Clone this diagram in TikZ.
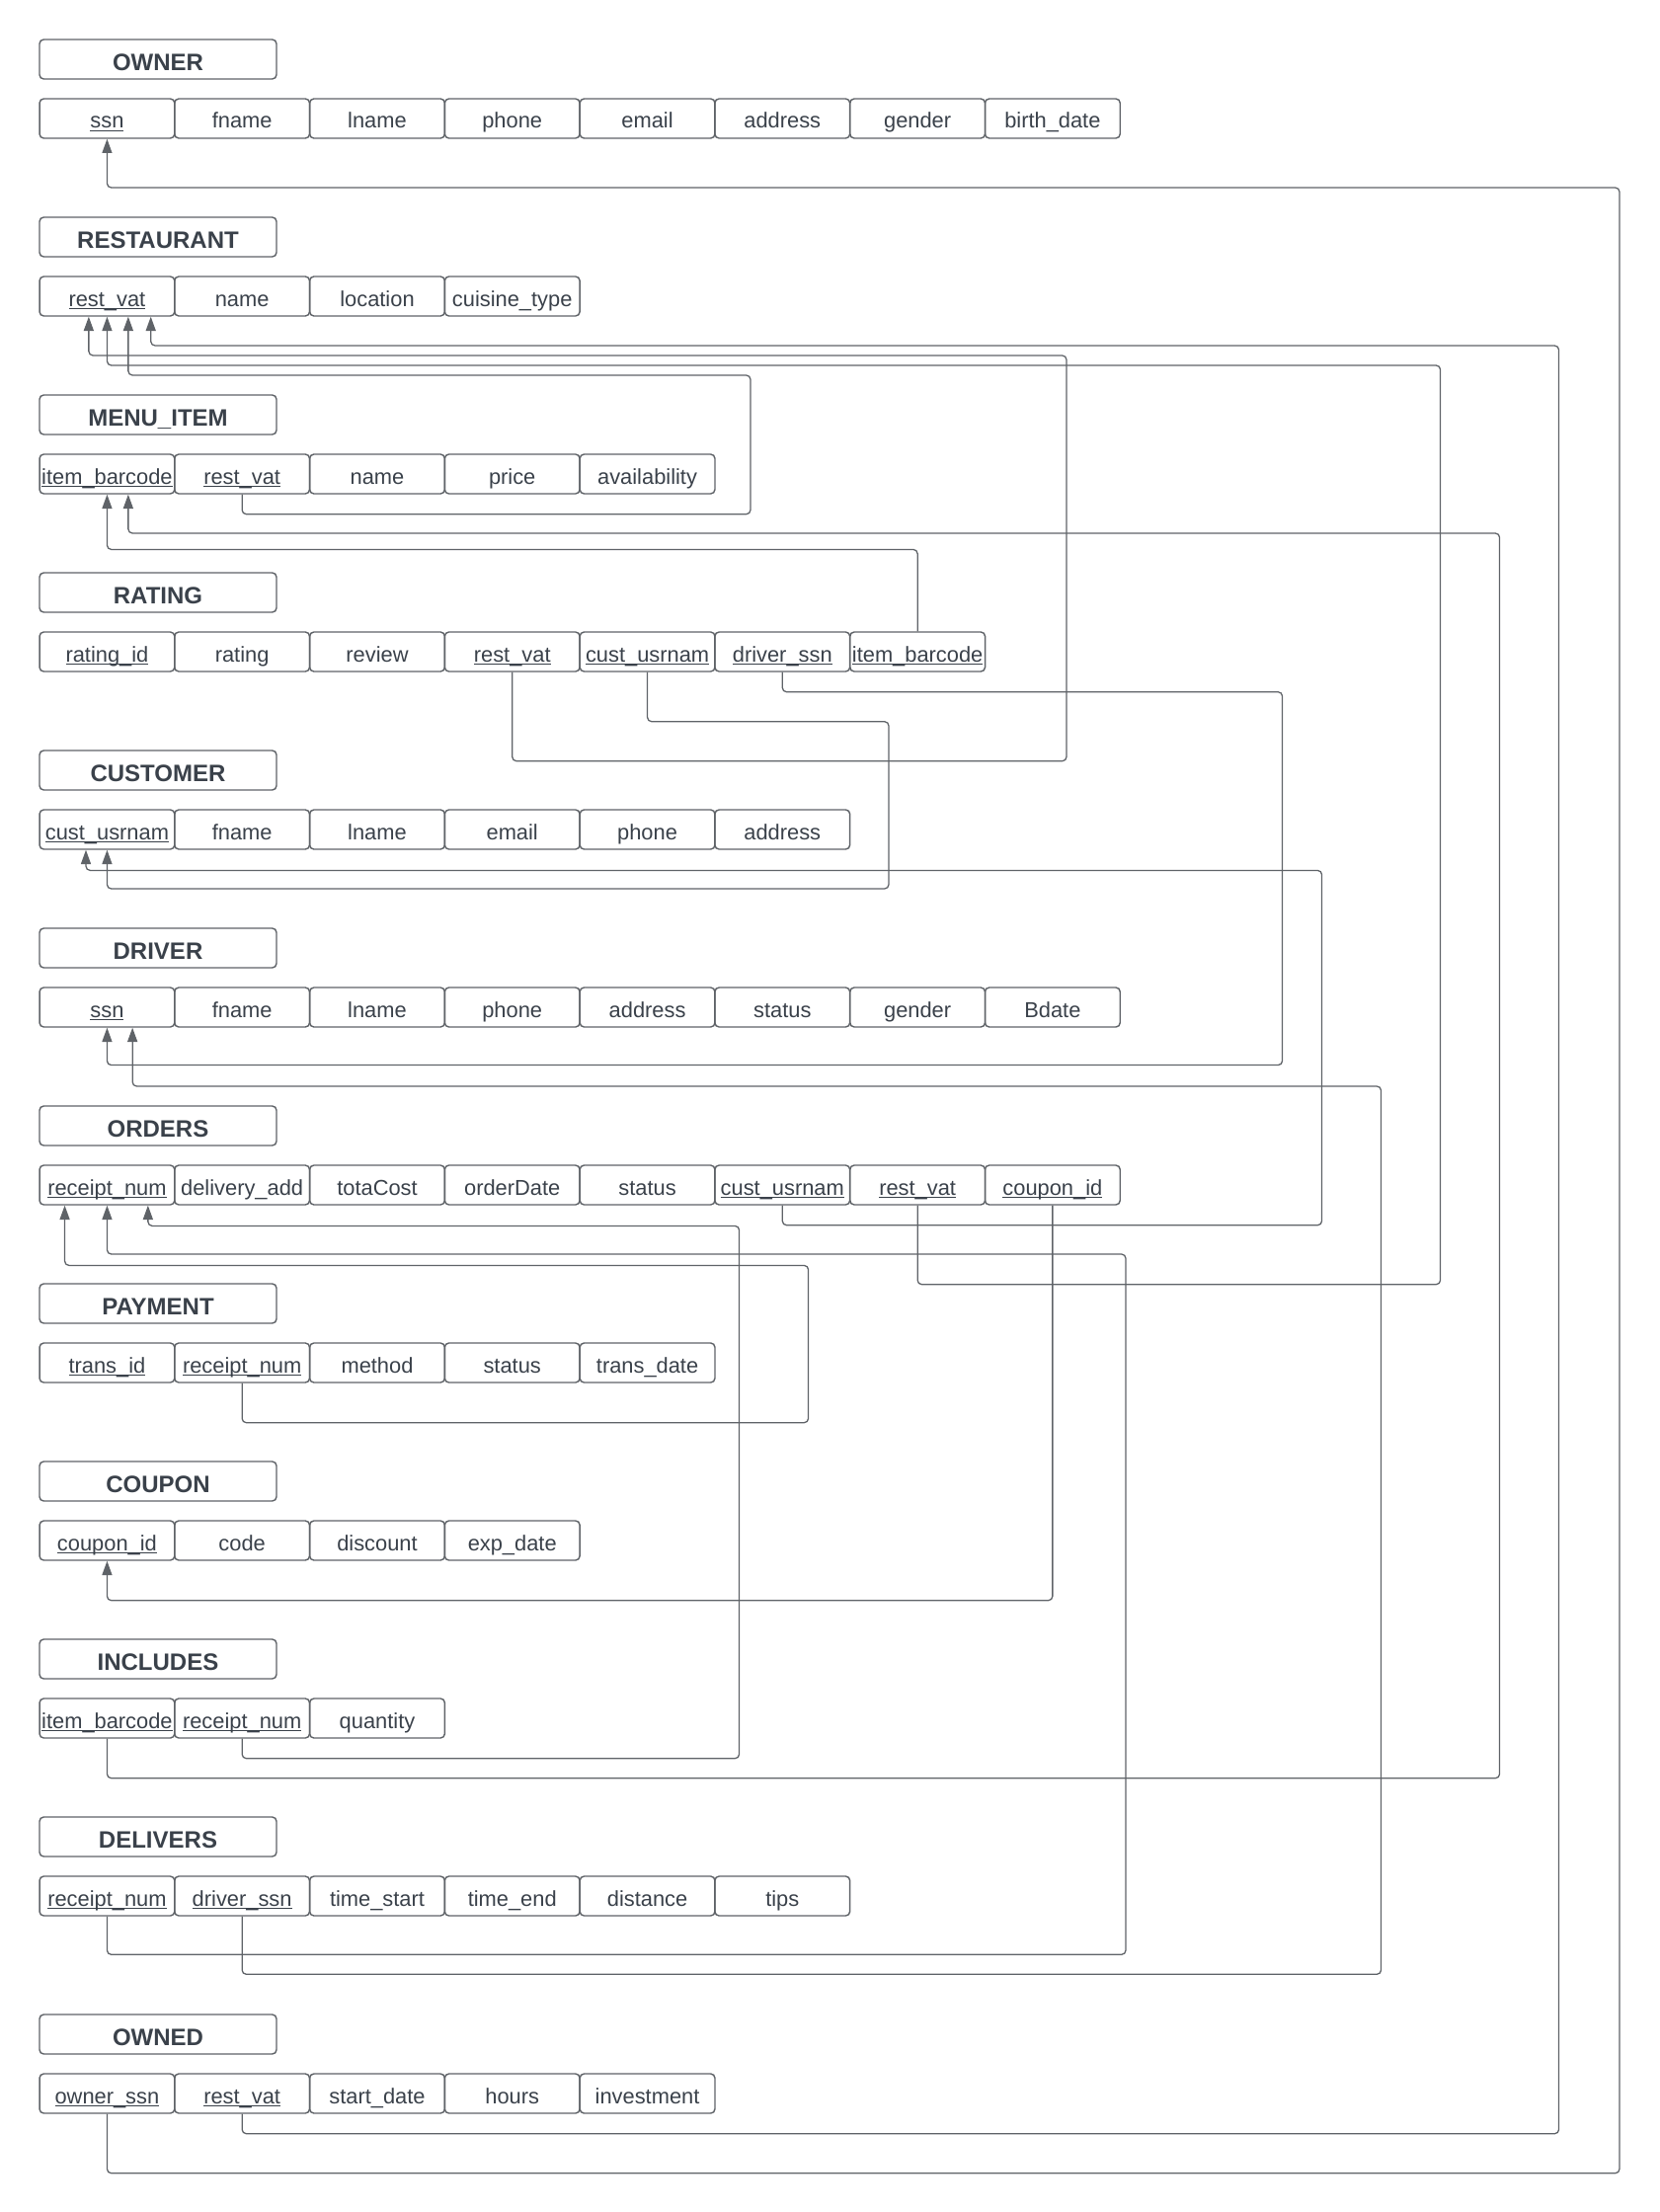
\documentclass[tikz,border=0pt]{standalone}
\usepackage{fontspec}
\setmainfont{Liberation Sans}
\usepackage{tikz}
\usetikzlibrary{arrows.meta}
\definecolor{inkgray}{HTML}{3A414A}
\definecolor{linegray}{HTML}{5F6368}
\tikzstyle{tablehead}=[draw=linegray, line width=1pt, rounded corners=3pt, minimum width=168pt, minimum height=28pt, inner sep=0pt, text=inkgray, font=\fontsize{16.8}{19}\selectfont\bfseries, text height=17pt, text depth=1pt]
\tikzstyle{attr}=[draw=linegray, line width=1pt, rounded corners=3pt, minimum width=95.75pt, minimum height=28pt, inner sep=0pt, text=inkgray, font=\fontsize{15.3}{18}\selectfont, text height=16pt, text depth=2pt]
\tikzstyle{fk}=[draw=linegray, line width=0.9pt, rounded corners=3pt, -{Triangle[width=7pt,length=10pt]}]
\newcommand{\keyattr}[1]{\setbox0\hbox{#1}\rlap{\rule[-2.2pt]{\wd0}{1pt}}\box0}

\begin{document}
\begin{tikzpicture}[x=1pt,y=-1pt]
		\useasboundingbox (0,0) rectangle (1176,1568);
		% OWNER
		\node[tablehead] (owner) at (112,42) {OWNER};
		\node[attr] (owner-ssn) at (75.9,84) {\keyattr{ssn}};
		\node[attr] (owner-fname) at (171.6,84) {fname};
		\node[attr] (owner-lname) at (267.4,84) {lname};
		\node[attr] (owner-phone) at (363.1,84) {phone};
		\node[attr] (owner-email) at (458.9,84) {email};
		\node[attr] (owner-address) at (554.6,84) {address};
		\node[attr] (owner-gender) at (650.4,84) {gender};
		\node[attr] (owner-birthdate) at (746.1,84) {birth\_date};
		% RESTAURANT
		\node[tablehead] (restaurant) at (112,168) {RESTAURANT};
		\node[attr] (restaurant-restvat) at (75.9,210) {\keyattr{rest\_vat}};
		\node[attr] (restaurant-name) at (171.6,210) {name};
		\node[attr] (restaurant-location) at (267.4,210) {location};
		\node[attr] (restaurant-cuisine) at (363.1,210) {cuisine\_type};
		% MENU_ITEM
		\node[tablehead] (menuitem) at (112,294) {MENU\_ITEM};
		\node[attr] (menuitem-itembarcode) at (75.9,336) {\keyattr{item\_barcode}};
		\node[attr] (menuitem-restvat) at (171.6,336) {\keyattr{rest\_vat}};
		\node[attr] (menuitem-name) at (267.4,336) {name};
		\node[attr] (menuitem-price) at (363.1,336) {price};
		\node[attr] (menuitem-availability) at (458.9,336) {availability};
		% RATING
		\node[tablehead] (rating) at (112,420) {RATING};
		\node[attr] (rating-ratingid) at (75.9,462) {\keyattr{rating\_id}};
		\node[attr] (rating-rating) at (171.6,462) {rating};
		\node[attr] (rating-review) at (267.4,462) {review};
		\node[attr] (rating-restvat) at (363.1,462) {\keyattr{rest\_vat}};
		\node[attr] (rating-custusrnam) at (458.9,462) {\keyattr{cust\_usrnam}};
		\node[attr] (rating-driverssn) at (554.6,462) {\keyattr{driver\_ssn}};
		\node[attr] (rating-itembarcode) at (650.4,462) {\keyattr{item\_barcode}};
		% CUSTOMER
		\node[tablehead] (customer) at (112,546) {CUSTOMER};
		\node[attr] (customer-custusrnam) at (75.9,588) {\keyattr{cust\_usrnam}};
		\node[attr] (customer-fname) at (171.6,588) {fname};
		\node[attr] (customer-lname) at (267.4,588) {lname};
		\node[attr] (customer-email) at (363.1,588) {email};
		\node[attr] (customer-phone) at (458.9,588) {phone};
		\node[attr] (customer-address) at (554.6,588) {address};
		% DRIVER
		\node[tablehead] (driver) at (112,672) {DRIVER};
		\node[attr] (driver-ssn) at (75.9,714) {\keyattr{ssn}};
		\node[attr] (driver-fname) at (171.6,714) {fname};
		\node[attr] (driver-lname) at (267.4,714) {lname};
		\node[attr] (driver-phone) at (363.1,714) {phone};
		\node[attr] (driver-address) at (458.9,714) {address};
		\node[attr] (driver-status) at (554.6,714) {status};
		\node[attr] (driver-gender) at (650.4,714) {gender};
		\node[attr] (driver-bdate) at (746.1,714) {Bdate};
		% ORDERS
		\node[tablehead] (orders) at (112,798) {ORDERS};
		\node[attr] (orders-receiptnum) at (75.9,840) {\keyattr{receipt\_num}};
		\node[attr] (orders-deliveryadd) at (171.6,840) {delivery\_add};
		\node[attr] (orders-totacost) at (267.4,840) {totaCost};
		\node[attr] (orders-orderdate) at (363.1,840) {orderDate};
		\node[attr] (orders-status) at (458.9,840) {status};
		\node[attr] (orders-custusrnam) at (554.6,840) {\keyattr{cust\_usrnam}};
		\node[attr] (orders-restvat) at (650.4,840) {\keyattr{rest\_vat}};
		\node[attr] (orders-couponid) at (746.1,840) {\keyattr{coupon\_id}};
		% PAYMENT
		\node[tablehead] (payment) at (112,924) {PAYMENT};
		\node[attr] (payment-transid) at (75.9,966) {\keyattr{trans\_id}};
		\node[attr] (payment-receiptnum) at (171.6,966) {\keyattr{receipt\_num}};
		\node[attr] (payment-method) at (267.4,966) {method};
		\node[attr] (payment-status) at (363.1,966) {status};
		\node[attr] (payment-transdate) at (458.9,966) {trans\_date};
		% COUPON
		\node[tablehead] (coupon) at (112,1050) {COUPON};
		\node[attr] (coupon-couponid) at (75.9,1092) {\keyattr{coupon\_id}};
		\node[attr] (coupon-code) at (171.6,1092) {code};
		\node[attr] (coupon-discount) at (267.4,1092) {discount};
		\node[attr] (coupon-expdate) at (363.1,1092) {exp\_date};
		% INCLUDES
		\node[tablehead] (includes) at (112,1176) {INCLUDES};
		\node[attr] (includes-itembarcode) at (75.9,1218) {\keyattr{item\_barcode}};
		\node[attr] (includes-receiptnum) at (171.6,1218) {\keyattr{receipt\_num}};
		\node[attr] (includes-quantity) at (267.4,1218) {quantity};
		% DELIVERS
		\node[tablehead] (delivers) at (112,1302) {DELIVERS};
		\node[attr] (delivers-receiptnum) at (75.9,1344) {\keyattr{receipt\_num}};
		\node[attr] (delivers-driverssn) at (171.6,1344) {\keyattr{driver\_ssn}};
		\node[attr] (delivers-timestart) at (267.4,1344) {time\_start};
		\node[attr] (delivers-timeend) at (363.1,1344) {time\_end};
		\node[attr] (delivers-distance) at (458.9,1344) {distance};
		\node[attr] (delivers-tips) at (554.6,1344) {tips};
		% OWNED
		\node[tablehead] (owned) at (112,1442) {OWNED};
		\node[attr] (owned-ownerssn) at (75.9,1484) {\keyattr{owner\_ssn}};
		\node[attr] (owned-restvat) at (171.6,1484) {\keyattr{rest\_vat}};
		\node[attr] (owned-startdate) at (267.4,1484) {start\_date};
		\node[attr] (owned-hours) at (363.1,1484) {hours};
		\node[attr] (owned-investment) at (458.9,1484) {investment};
		% foreign keys
		\draw[fk] (owned-ownerssn.south) -- ++(0,42) -| (1148,133) -| (owner-ssn.south);
		\draw[fk] (owned-restvat.south) -- ++(0,14) -| (1105,245) -| ([xshift=31pt]restaurant-restvat.south);
		\draw[fk] (menuitem-restvat.south) -- ++(0,14) -| (532,266) -| ([xshift=15pt]restaurant-restvat.south);
		\draw[fk] (rating-restvat.south) -- ++(0,63) -| (756,252) -| ([xshift=-13pt]restaurant-restvat.south);
		\draw[fk] (orders-restvat.south) -- ++(0,56) -| (1021,259) -| (restaurant-restvat.south);
		\draw[fk] (rating-itembarcode.north) -- ++(0,-58) -| (menuitem-itembarcode.south);
		\draw[fk] (includes-itembarcode.south) -- ++(0,28) -| (1063,378) -| ([xshift=15pt]menuitem-itembarcode.south);
		\draw[fk] (rating-custusrnam.south) -- ++(0,35) -| (630,630) -| (customer-custusrnam.south);
		\draw[fk] (orders-custusrnam.south) -- ++(0,14) -| (937,617) -| ([xshift=-15pt]customer-custusrnam.south);
		\draw[fk] (rating-driverssn.south) -- ++(0,14) -| (909,755) -| (driver-ssn.south);
		\draw[fk] (delivers-driverssn.south) -- ++(0,41) -| (979,770) -| ([xshift=18pt]driver-ssn.south);
		\draw[fk] (includes-receiptnum.south) -- ++(0,14) -| (524,869) -| ([xshift=29pt]orders-receiptnum.south);
		\draw[fk] (delivers-receiptnum.south) -- ++(0,27) -| (798,889) -| (orders-receiptnum.south);
		\draw[fk] (payment-receiptnum.south) -- ++(0,28) -| (573,897) -| ([xshift=-30pt]orders-receiptnum.south);
		\draw[fk] (orders-couponid.south) -- ++(0,280) -| (coupon-couponid.south);
	\end{tikzpicture}
\end{document}
